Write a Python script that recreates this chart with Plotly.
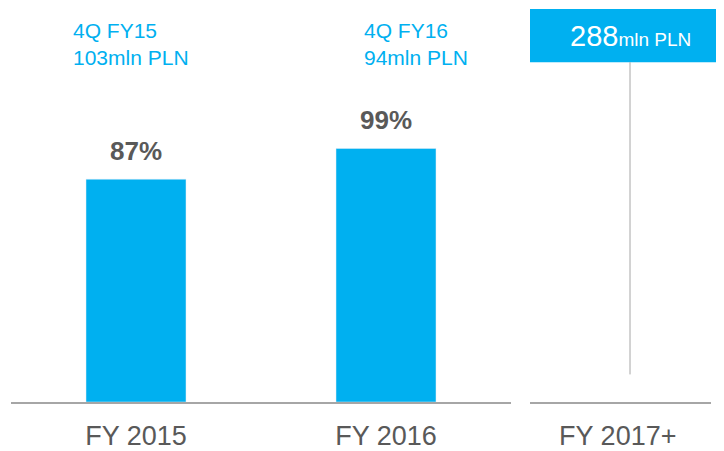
import plotly.graph_objects as go

# ---- data ----
categories = ["FY 2015", "FY 2016"]
future_category = ["FY 2017+"]
coverage_pct = [87, 99]
quarter_labels = ["4Q FY15", "4Q FY16"]
quarter_amounts = [103, 94]
future_amount = 288
unit = "mln PLN"

REF_W, REF_H = 724, 451
OFF = 8  # default body margin of the html page
W, H = REF_W - OFF, REF_H - OFF
AXIS_Y = 408 - OFF
PLOT_B = H - AXIS_Y
plot_h = AXIS_Y

BLUE = "#00B0F0"
GREY_TXT = "#595959"
AXIS_GREY = "#A6A6A6"
FONT = "Liberation Sans, Arial, sans-serif"

def px_x(p):
    return (p - OFF) / W

def px_y(p):
    return 1 - (p - OFF) / plot_h

fig = go.Figure()
fig.add_trace(go.Bar(
    x=categories, y=coverage_pct, marker_color=BLUE, width=0.4,
    xaxis="x", yaxis="y", hoverinfo="skip", showlegend=False,
))
fig.add_trace(go.Bar(
    x=[0], y=[None], xaxis="x2", yaxis="y", hoverinfo="skip", showlegend=False,
))

annotations = []
for c, v in zip(categories, coverage_pct):
    annotations.append(dict(
        x=c, y=v, xref="x", yref="y", text=f"<b>{v}%</b>", showarrow=False,
        yanchor="bottom", yshift=11, font=dict(size=26, color=GREY_TXT, family=FONT),
    ))

label_x = [71, 362]
for lx, ql, qa in zip(label_x, quarter_labels, quarter_amounts):
    annotations.append(dict(
        x=px_x(lx), y=px_y(17), xref="paper", yref="paper", xanchor="left", yanchor="top",
        align="left", showarrow=False, text=f"{ql}<br>{qa}{unit}",
        font=dict(size=21, color=BLUE, family=FONT),
    ))

annotations.append(dict(
    x=px_x(630), y=px_y(36), xref="paper", yref="paper", xanchor="center", yanchor="middle",
    showarrow=False,
    text=f"{future_amount}<span style='font-size:19px'>{unit}</span>",
    font=dict(size=29, color="white", family=FONT),
))

shapes = [
    dict(type="rect", xref="paper", yref="paper", x0=px_x(530), x1=1.0,
         y0=px_y(63), y1=px_y(9), fillcolor=BLUE, line=dict(width=0), layer="below"),
    dict(type="line", xref="paper", yref="paper", x0=px_x(630), x1=px_x(630),
         y0=px_y(63), y1=px_y(380), line=dict(color=AXIS_GREY, width=1)),
]

tickfont = dict(size=27, color=GREY_TXT, family=FONT)
fig.update_layout(
    width=W, height=H,
    margin=dict(l=0, r=0, t=0, b=PLOT_B),
    paper_bgcolor="white", plot_bgcolor="white",
    xaxis=dict(domain=[px_x(11), px_x(511)], type="category", categoryarray=categories,
               showline=True, linecolor=AXIS_GREY, linewidth=1.5, showgrid=False,
               ticks="", tickfont=tickfont, ticklabelstandoff=9, fixedrange=True),
    xaxis2=dict(domain=[px_x(530), px_x(711)], range=[-0.5, 0.5], tickmode="array",
                tickvals=[-0.015], ticktext=future_category, anchor="y",
                showline=True, linecolor=AXIS_GREY, linewidth=1.5, showgrid=False,
                zeroline=False, ticks="", tickfont=tickfont, ticklabelstandoff=9),
    yaxis=dict(range=[0, plot_h / 2.6], visible=False, fixedrange=True),
    annotations=annotations, shapes=shapes, bargap=0.6,
)

fig.write_html("out.html")
